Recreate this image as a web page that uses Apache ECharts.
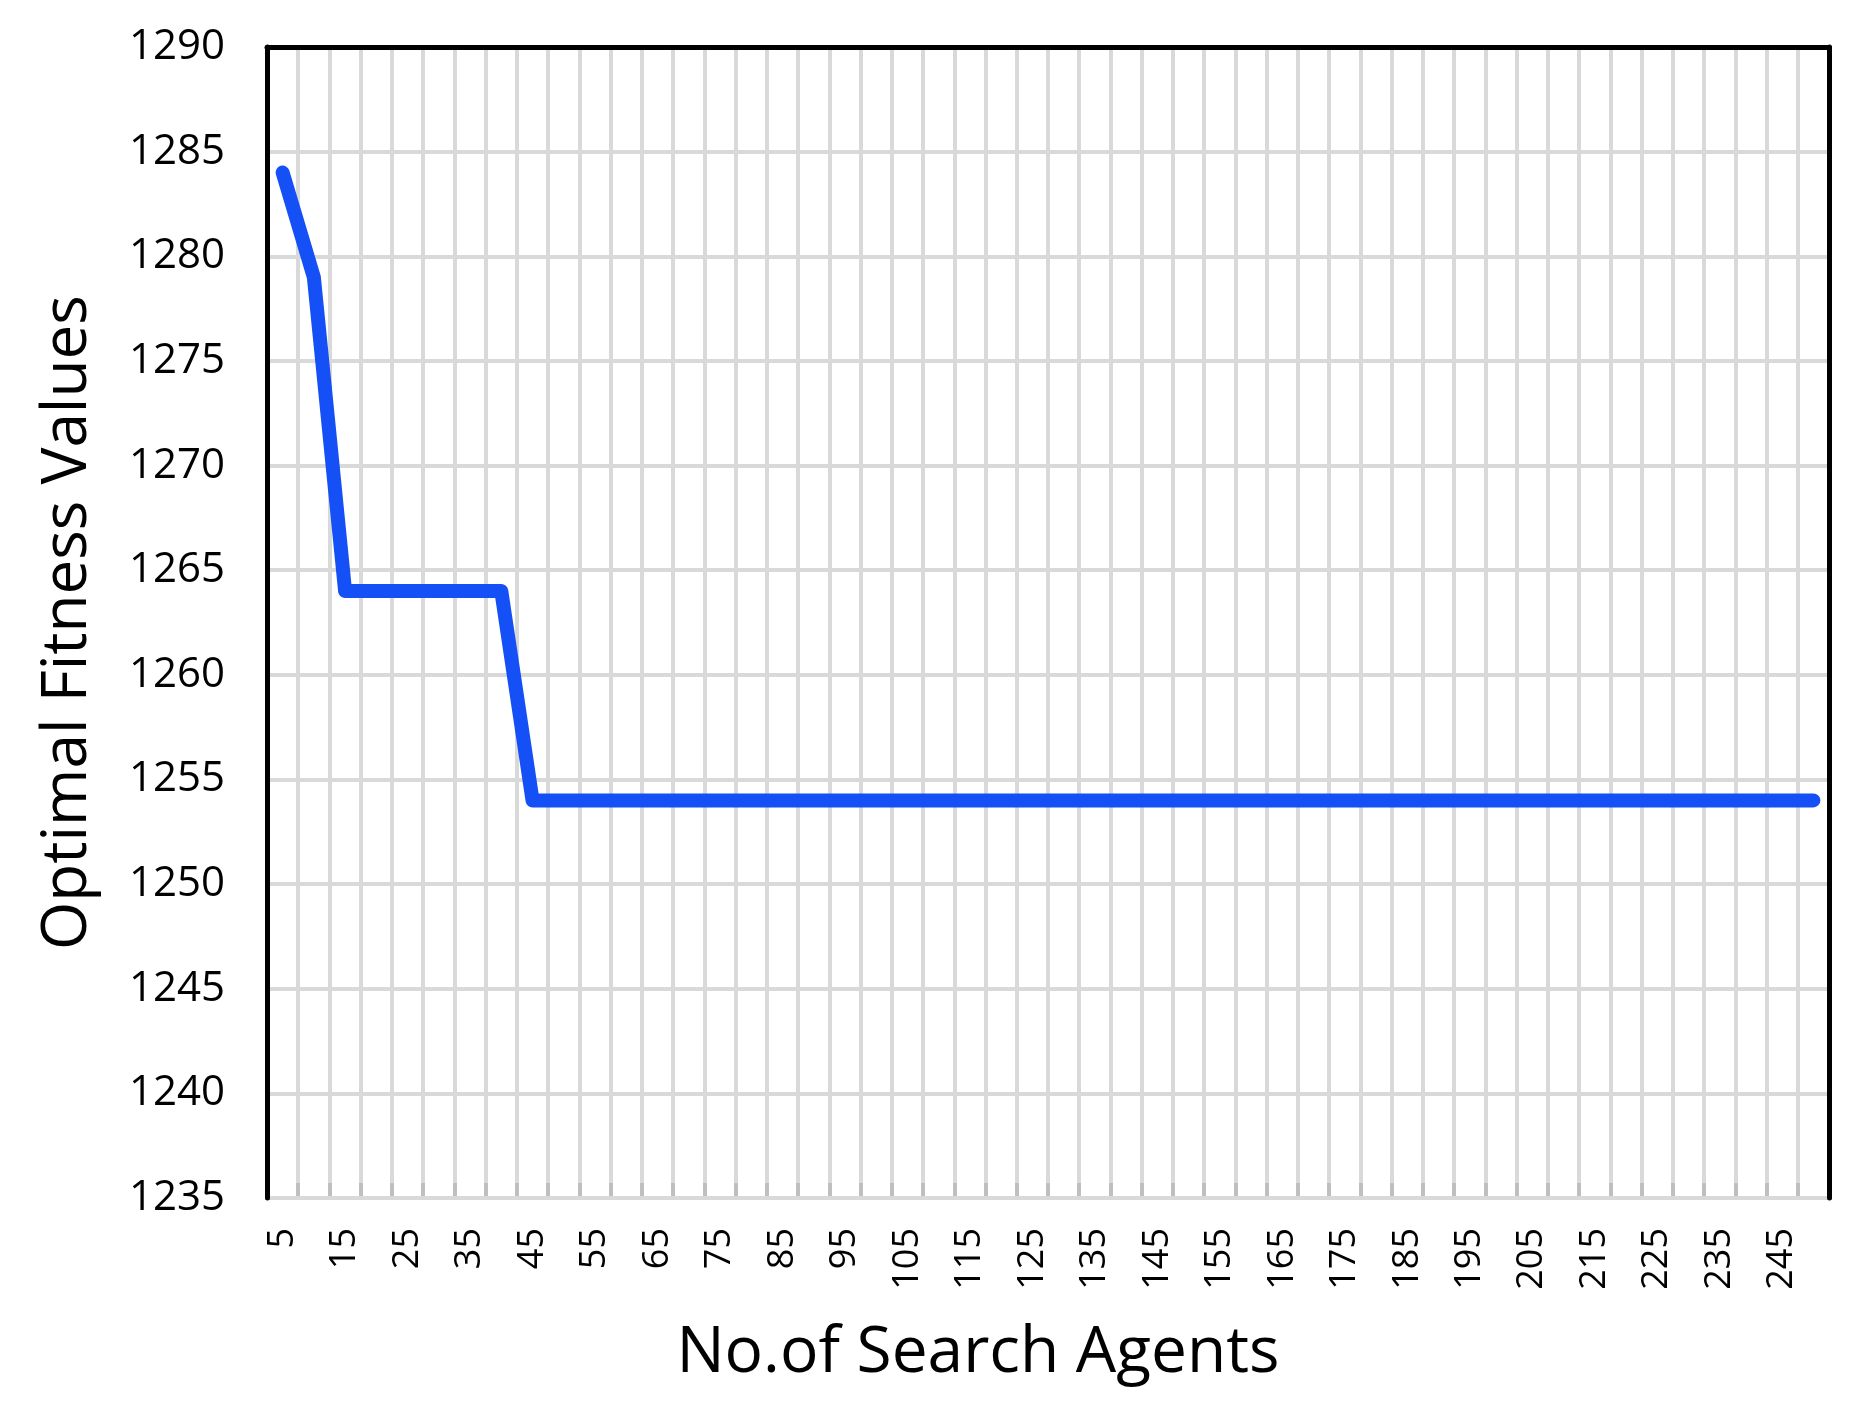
<!DOCTYPE html>
<html>
<head>
<meta charset="utf-8">
<script src="https://cdn.jsdelivr.net/npm/echarts@6/dist/echarts.min.js"></script>
<style>html,body{margin:0;padding:0;background:#fff;}#c{width:1855px;height:1414px;}</style>
</head>
<body>
<div id="c"></div>
<script>
// Number of search agents (categories)
const agents = [5,10,15,20,25,30,35,40,45,50,55,60,65,70,75,80,85,90,95,100,
  105,110,115,120,125,130,135,140,145,150,155,160,165,170,175,180,185,190,195,200,
  205,210,215,220,225,230,235,240,245,250];
// Optimal fitness values
const fitness = [1284,1279,1264,1264,1264,1264,1264,1264,1254,1254,1254,1254,1254,1254,1254,1254,1254,1254,1254,1254,
  1254,1254,1254,1254,1254,1254,1254,1254,1254,1254,1254,1254,1254,1254,1254,1254,1254,1254,1254,1254,
  1254,1254,1254,1254,1254,1254,1254,1254,1254,1254];
const yMin = 1235, yMax = 1290, yStep = 5;
const xTitle = 'No.of Search Agents';
const yTitle = 'Optimal Fitness Values';

const FONT = '"Open Sans", "Noto Sans", sans-serif';
const chart = echarts.init(document.getElementById('c'));
chart.setOption({
  backgroundColor: '#fff',
  animation: false,
  grid: { left: 267, top: 47, right: 26, bottom: 216, show: false },
  xAxis: [{
    type: 'category',
    data: agents.map(String),
    boundaryGap: true,
    name: xTitle,
    nameLocation: 'middle',
    nameGap: 124,
    nameTextStyle: { fontFamily: FONT, fontSize: 64, color: '#000', padding: [0, 140, 0, 0] },
    axisLine: { show: true, lineStyle: { color: '#bfbfbf', width: 4 } },
    axisTick: { show: true, inside: true, length: 15, interval: 0, lineStyle: { color: '#bfbfbf', width: 4 } },
    axisLabel: { interval: 1, rotate: 90, margin: 30, fontFamily: FONT, fontSize: 36, color: '#000' },
    splitLine: { show: true, interval: 0, lineStyle: { color: '#d9d9d9', width: 4 } },
    z: 3
  }, {
    type: 'category',
    position: 'top',
    data: agents.map(String),
    axisLine: { show: true, lineStyle: { color: '#000', width: 5 } },
    axisTick: { show: false },
    axisLabel: { show: false },
    splitLine: { show: false },
    z: 4
  }],
  yAxis: [{
    type: 'value',
    min: yMin, max: yMax, interval: yStep,
    name: yTitle,
    nameLocation: 'middle',
    nameGap: 168,
    nameTextStyle: { fontFamily: FONT, fontSize: 62, color: '#000' },
    axisLine: { show: true, onZero: false, lineStyle: { color: '#000', width: 5 } },
    axisTick: { show: false },
    axisLabel: { margin: 42, fontFamily: FONT, fontSize: 42, color: '#000', formatter: v => String(v) },
    splitLine: { show: true, lineStyle: { color: '#d9d9d9', width: 4 } },
    z: 4
  }, {
    type: 'value',
    position: 'right',
    min: yMin, max: yMax, interval: yStep,
    axisLine: { show: true, onZero: false, lineStyle: { color: '#000', width: 5 } },
    axisTick: { show: false },
    axisLabel: { show: false },
    splitLine: { show: false },
    z: 4
  }],
  series: [{
    type: 'line',
    data: fitness,
    showSymbol: false,
    symbol: 'none',
    lineStyle: { color: '#1450f5', width: 14, cap: 'round', join: 'round' },
    z: 5
  }]
});
</script>
</body>
</html>
